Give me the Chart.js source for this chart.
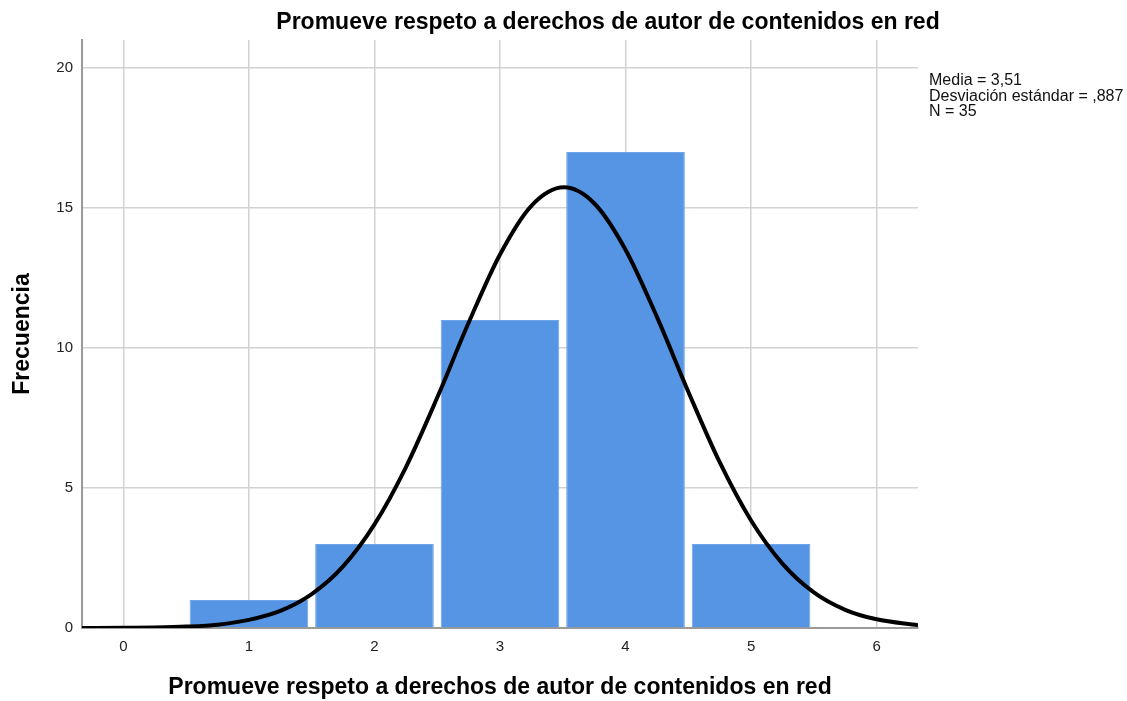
<!DOCTYPE html>
<html>
<head>
<meta charset="utf-8">
<script src="https://cdn.jsdelivr.net/npm/chart.js@4.4.0/dist/chart.umd.min.js"></script>
<style>
  html, body { margin: 0; padding: 0; background: #fff; }
  #histChart { display: block; }
</style>
</head>
<body>
<canvas id="histChart" width="1127" height="701"></canvas>
<script>
// Histogram bins (category value -> frequency)
const binCenters = [1, 2, 3, 4, 5];
const frequencies = [1, 3, 11, 17, 3];

// Normal curve, values
const curveX = [-0.33, 0, 0.25, 0.5, 0.75, 1, 1.25, 1.5, 1.75, 2, 2.25, 2.5, 2.75, 3, 3.25, 3.51, 3.75, 4, 4.25, 4.5, 4.75, 5, 5.25, 5.5, 5.75, 6, 6.33];
const curveY = [0.0, 0.01, 0.02, 0.05, 0.12, 0.29, 0.61, 1.21, 2.2, 3.7, 5.74, 8.23, 10.9, 13.34, 15.08, 15.74, 15.17, 13.51, 11.11, 8.44, 5.92, 3.84, 2.3, 1.27, 0.65, 0.31, 0.1];

const xTicks = [0, 1, 2, 3, 4, 5, 6];
const yTicks = [0, 5, 10, 15, 20];

const chartTitle = "Promueve respeto a derechos de autor de contenidos en red";
const statsLines = ["Media = 3,51", "Desviación estándar = ,887", "N = 35"];

const FONT = "'Liberation Sans', Arial, sans-serif";

document.addEventListener("DOMContentLoaded", function () {
  const ctx = document.getElementById("histChart");

  // title and the summary text at the right of the plot
  const extraText = {
    id: "extraText",
    afterDraw(chart) {
      const c = chart.ctx;
      c.save();
      c.fillStyle = "#000";
      c.font = "bold 23px " + FONT;
      c.textAlign = "center";
      c.textBaseline = "alphabetic";
      c.fillText(chartTitle, 608, 29);

      c.font = "16px " + FONT;
      c.fillStyle = "#111";
      c.textAlign = "left";
      statsLines.forEach((line, i) => {
        c.fillText(line, chart.chartArea.right + 11, 85 + i * 15.5);
      });
      c.restore();
    },
  };

  new Chart(ctx, {
    type: "bar",
    data: {
      datasets: [
        {
          type: "line",
          data: curveX.map((x, i) => ({ x: x, y: curveY[i] })),
          borderColor: "#000",
          borderWidth: 4,
          pointRadius: 0,
          cubicInterpolationMode: "monotone",
          fill: false,
          order: 0,
        },
        {
          type: "bar",
          data: binCenters.map((x, i) => ({ x: x, y: frequencies[i] })),
          backgroundColor: "#5595e4",
          borderColor: "#6ea4ea",
          borderWidth: 1,
          barPercentage: 0.945,
          categoryPercentage: 1,
          order: 1,
        },
      ],
    },
    options: {
      responsive: false,
      animation: false,
      layout: { padding: { left: 0, right: 209, top: 40, bottom: 0 } },
      plugins: {
        legend: { display: false },
        tooltip: { enabled: false },
        title: { display: false },
      },
      scales: {
        x: {
          type: "linear",
          min: -0.33,
          max: 6.33,
          offset: false,
          grid: { offset: false, color: "#d2d2d2", lineWidth: 1.5, drawTicks: false },
          border: { color: "#9a9a9a", width: 2 },
          afterBuildTicks: (scale) => {
            scale.ticks = xTicks.map((v) => ({ value: v }));
          },
          ticks: {
            includeBounds: false,
            color: "#222",
            font: { family: FONT, size: 15 },
            padding: 10,
          },
          title: {
            display: true,
            text: chartTitle,
            color: "#000",
            font: { family: FONT, size: 23, weight: "bold" },
            padding: { top: 10, bottom: 0 },
          },
          afterFit: (scale) => {
            scale.height = 73;
          },
        },
        y: {
          min: 0,
          max: 21,
          grid: { color: "#d2d2d2", lineWidth: 1.5, drawTicks: false },
          border: { color: "#9a9a9a", width: 2 },
          afterBuildTicks: (scale) => {
            scale.ticks = yTicks.map((v) => ({ value: v }));
          },
          ticks: {
            color: "#222",
            font: { family: FONT, size: 15 },
            padding: 9,
          },
          title: {
            display: true,
            text: "Frecuencia",
            color: "#000",
            font: { family: FONT, size: 23, weight: "bold" },
            padding: { top: 9, bottom: 0 },
          },
          afterFit: (scale) => {
            scale.width = 82;
          },
        },
      },
    },
    plugins: [extraText],
  });
});
</script>
</body>
</html>
